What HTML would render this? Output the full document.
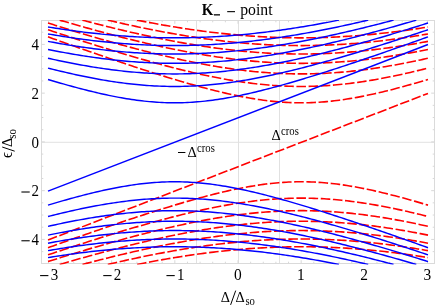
<!DOCTYPE html>
<html><head><meta charset="utf-8"><title>K- point</title>
<style>html,body{margin:0;padding:0;background:#fff}body{width:436px;height:305px;position:relative;overflow:hidden;font-family:"Liberation Serif",serif}</style></head>
<body>
<svg width="436" height="305" viewBox="0 0 436 305" style="position:absolute;left:0;top:0">
<defs><clipPath id="cp"><rect x="41.5" y="20.11" width="393.0" height="244.36"/></clipPath></defs>
<g stroke="#e1e1e1" stroke-width="1" fill="none">
<line x1="196.50" y1="20.5" x2="196.50" y2="263.5"/>
<line x1="238.50" y1="20.5" x2="238.50" y2="263.5"/>
<line x1="279.50" y1="20.5" x2="279.50" y2="263.5"/>
<line x1="41.5" y1="142.29" x2="434.5" y2="142.29"/>
</g>
<rect x="41.5" y="20.5" width="393.0" height="243.0" fill="none" stroke="#dadada" stroke-width="1"/>
<g stroke="#d8d8d8" stroke-width="1">
<line x1="48.49" y1="263.5" x2="48.49" y2="260.2"/>
<line x1="48.49" y1="20.5" x2="48.49" y2="23.8"/>
<line x1="61.12" y1="263.5" x2="61.12" y2="261.7"/>
<line x1="61.12" y1="20.5" x2="61.12" y2="22.3"/>
<line x1="73.76" y1="263.5" x2="73.76" y2="261.7"/>
<line x1="73.76" y1="20.5" x2="73.76" y2="22.3"/>
<line x1="86.39" y1="263.5" x2="86.39" y2="261.7"/>
<line x1="86.39" y1="20.5" x2="86.39" y2="22.3"/>
<line x1="99.03" y1="263.5" x2="99.03" y2="261.7"/>
<line x1="99.03" y1="20.5" x2="99.03" y2="22.3"/>
<line x1="111.66" y1="263.5" x2="111.66" y2="260.2"/>
<line x1="111.66" y1="20.5" x2="111.66" y2="23.8"/>
<line x1="124.29" y1="263.5" x2="124.29" y2="261.7"/>
<line x1="124.29" y1="20.5" x2="124.29" y2="22.3"/>
<line x1="136.93" y1="263.5" x2="136.93" y2="261.7"/>
<line x1="136.93" y1="20.5" x2="136.93" y2="22.3"/>
<line x1="149.56" y1="263.5" x2="149.56" y2="261.7"/>
<line x1="149.56" y1="20.5" x2="149.56" y2="22.3"/>
<line x1="162.2" y1="263.5" x2="162.2" y2="261.7"/>
<line x1="162.2" y1="20.5" x2="162.2" y2="22.3"/>
<line x1="174.83" y1="263.5" x2="174.83" y2="260.2"/>
<line x1="174.83" y1="20.5" x2="174.83" y2="23.8"/>
<line x1="187.46" y1="263.5" x2="187.46" y2="261.7"/>
<line x1="187.46" y1="20.5" x2="187.46" y2="22.3"/>
<line x1="200.1" y1="263.5" x2="200.1" y2="261.7"/>
<line x1="200.1" y1="20.5" x2="200.1" y2="22.3"/>
<line x1="212.73" y1="263.5" x2="212.73" y2="261.7"/>
<line x1="212.73" y1="20.5" x2="212.73" y2="22.3"/>
<line x1="225.37" y1="263.5" x2="225.37" y2="261.7"/>
<line x1="225.37" y1="20.5" x2="225.37" y2="22.3"/>
<line x1="238.0" y1="263.5" x2="238.0" y2="260.2"/>
<line x1="238.0" y1="20.5" x2="238.0" y2="23.8"/>
<line x1="250.63" y1="263.5" x2="250.63" y2="261.7"/>
<line x1="250.63" y1="20.5" x2="250.63" y2="22.3"/>
<line x1="263.27" y1="263.5" x2="263.27" y2="261.7"/>
<line x1="263.27" y1="20.5" x2="263.27" y2="22.3"/>
<line x1="275.9" y1="263.5" x2="275.9" y2="261.7"/>
<line x1="275.9" y1="20.5" x2="275.9" y2="22.3"/>
<line x1="288.54" y1="263.5" x2="288.54" y2="261.7"/>
<line x1="288.54" y1="20.5" x2="288.54" y2="22.3"/>
<line x1="301.17" y1="263.5" x2="301.17" y2="260.2"/>
<line x1="301.17" y1="20.5" x2="301.17" y2="23.8"/>
<line x1="313.8" y1="263.5" x2="313.8" y2="261.7"/>
<line x1="313.8" y1="20.5" x2="313.8" y2="22.3"/>
<line x1="326.44" y1="263.5" x2="326.44" y2="261.7"/>
<line x1="326.44" y1="20.5" x2="326.44" y2="22.3"/>
<line x1="339.07" y1="263.5" x2="339.07" y2="261.7"/>
<line x1="339.07" y1="20.5" x2="339.07" y2="22.3"/>
<line x1="351.71" y1="263.5" x2="351.71" y2="261.7"/>
<line x1="351.71" y1="20.5" x2="351.71" y2="22.3"/>
<line x1="364.34" y1="263.5" x2="364.34" y2="260.2"/>
<line x1="364.34" y1="20.5" x2="364.34" y2="23.8"/>
<line x1="376.97" y1="263.5" x2="376.97" y2="261.7"/>
<line x1="376.97" y1="20.5" x2="376.97" y2="22.3"/>
<line x1="389.61" y1="263.5" x2="389.61" y2="261.7"/>
<line x1="389.61" y1="20.5" x2="389.61" y2="22.3"/>
<line x1="402.24" y1="263.5" x2="402.24" y2="261.7"/>
<line x1="402.24" y1="20.5" x2="402.24" y2="22.3"/>
<line x1="414.88" y1="263.5" x2="414.88" y2="261.7"/>
<line x1="414.88" y1="20.5" x2="414.88" y2="22.3"/>
<line x1="427.51" y1="263.5" x2="427.51" y2="260.2"/>
<line x1="427.51" y1="20.5" x2="427.51" y2="23.8"/>
<line x1="41.5" y1="251.61" x2="43.3" y2="251.61"/>
<line x1="434.5" y1="251.61" x2="432.7" y2="251.61"/>
<line x1="41.5" y1="239.42" x2="44.8" y2="239.42"/>
<line x1="434.5" y1="239.42" x2="431.2" y2="239.42"/>
<line x1="41.5" y1="227.23" x2="43.3" y2="227.23"/>
<line x1="434.5" y1="227.23" x2="432.7" y2="227.23"/>
<line x1="41.5" y1="215.04" x2="43.3" y2="215.04"/>
<line x1="434.5" y1="215.04" x2="432.7" y2="215.04"/>
<line x1="41.5" y1="202.85" x2="43.3" y2="202.85"/>
<line x1="434.5" y1="202.85" x2="432.7" y2="202.85"/>
<line x1="41.5" y1="190.66" x2="44.8" y2="190.66"/>
<line x1="434.5" y1="190.66" x2="431.2" y2="190.66"/>
<line x1="41.5" y1="178.47" x2="43.3" y2="178.47"/>
<line x1="434.5" y1="178.47" x2="432.7" y2="178.47"/>
<line x1="41.5" y1="166.28" x2="43.3" y2="166.28"/>
<line x1="434.5" y1="166.28" x2="432.7" y2="166.28"/>
<line x1="41.5" y1="154.09" x2="43.3" y2="154.09"/>
<line x1="434.5" y1="154.09" x2="432.7" y2="154.09"/>
<line x1="41.5" y1="141.90" x2="44.8" y2="141.90"/>
<line x1="434.5" y1="141.90" x2="431.2" y2="141.90"/>
<line x1="41.5" y1="129.71" x2="43.3" y2="129.71"/>
<line x1="434.5" y1="129.71" x2="432.7" y2="129.71"/>
<line x1="41.5" y1="117.52" x2="43.3" y2="117.52"/>
<line x1="434.5" y1="117.52" x2="432.7" y2="117.52"/>
<line x1="41.5" y1="105.33" x2="43.3" y2="105.33"/>
<line x1="434.5" y1="105.33" x2="432.7" y2="105.33"/>
<line x1="41.5" y1="93.14" x2="44.8" y2="93.14"/>
<line x1="434.5" y1="93.14" x2="431.2" y2="93.14"/>
<line x1="41.5" y1="80.95" x2="43.3" y2="80.95"/>
<line x1="434.5" y1="80.95" x2="432.7" y2="80.95"/>
<line x1="41.5" y1="68.76" x2="43.3" y2="68.76"/>
<line x1="434.5" y1="68.76" x2="432.7" y2="68.76"/>
<line x1="41.5" y1="56.57" x2="43.3" y2="56.57"/>
<line x1="434.5" y1="56.57" x2="432.7" y2="56.57"/>
<line x1="41.5" y1="44.38" x2="44.8" y2="44.38"/>
<line x1="434.5" y1="44.38" x2="431.2" y2="44.38"/>
<line x1="41.5" y1="32.19" x2="43.3" y2="32.19"/>
<line x1="434.5" y1="32.19" x2="432.7" y2="32.19"/>
</g>
<g clip-path="url(#cp)" fill="none">
<g stroke="#ff0000" stroke-width="1.6" stroke-dasharray="9.55 2.63">
<path d="M48.01,240.03 L427.99,93.42"/>
<path d="M48.01,36.87 L50.54,37.78 L53.08,38.68 L55.61,39.59 L58.14,40.49 L60.68,41.39 L63.21,42.29 L65.74,43.19 L68.28,44.08 L70.81,44.98 L73.34,45.87 L75.88,46.76 L78.41,47.65 L80.94,48.54 L83.47,49.42 L86.01,50.31 L88.54,51.19 L91.07,52.07 L93.61,52.95 L96.14,53.82 L98.67,54.69 L101.21,55.57 L103.74,56.44 L106.27,57.30 L108.81,58.17 L111.34,59.03 L113.87,59.89 L116.41,60.74 L118.94,61.60 L121.47,62.45 L124.01,63.30 L126.54,64.14 L129.07,64.98 L131.61,65.82 L134.14,66.66 L136.67,67.49 L139.21,68.32 L141.74,69.14 L144.27,69.96 L146.80,70.78 L149.34,71.59 L151.87,72.40 L154.40,73.21 L156.94,74.01 L159.47,74.80 L162.00,75.59 L164.54,76.38 L167.07,77.16 L169.60,77.93 L172.14,78.70 L174.67,79.47 L177.20,80.22 L179.74,80.97 L182.27,81.72 L184.80,82.46 L187.34,83.19 L189.87,83.91 L192.40,84.63 L194.94,85.34 L197.47,86.04 L200.00,86.73 L202.54,87.41 L205.07,88.09 L207.60,88.75 L210.13,89.41 L212.67,90.05 L215.20,90.69 L217.73,91.31 L220.27,91.92 L222.80,92.52 L225.33,93.11 L227.87,93.69 L230.40,94.25 L232.93,94.80 L235.47,95.34 L238.00,95.86 L240.53,96.37 L243.07,96.86 L245.60,97.34 L248.13,97.80 L250.67,98.24 L253.20,98.66 L255.73,99.07 L258.27,99.46 L260.80,99.83 L263.33,100.18 L265.87,100.51 L268.40,100.82 L270.93,101.11 L273.46,101.37 L276.00,101.62 L278.53,101.84 L281.06,102.05 L283.60,102.22 L286.13,102.38 L288.66,102.51 L291.20,102.62 L293.73,102.70 L296.26,102.76 L298.80,102.80 L301.33,102.81 L303.86,102.80 L306.40,102.76 L308.93,102.70 L311.46,102.62 L314.00,102.51 L316.53,102.38 L319.06,102.22 L321.60,102.05 L324.13,101.84 L326.66,101.62 L329.20,101.37 L331.73,101.11 L334.26,100.82 L336.79,100.51 L339.33,100.18 L341.86,99.83 L344.39,99.46 L346.93,99.07 L349.46,98.66 L351.99,98.24 L354.53,97.80 L357.06,97.34 L359.59,96.86 L362.13,96.37 L364.66,95.86 L367.19,95.34 L369.73,94.80 L372.26,94.25 L374.79,93.69 L377.33,93.11 L379.86,92.52 L382.39,91.92 L384.93,91.31 L387.46,90.69 L389.99,90.05 L392.53,89.41 L395.06,88.75 L397.59,88.09 L400.12,87.41 L402.66,86.73 L405.19,86.04 L407.72,85.34 L410.26,84.63 L412.79,83.91 L415.32,83.19 L417.86,82.46 L420.39,81.72 L422.92,80.97 L425.46,80.22 L427.99,79.47"/>
<path d="M48.01,247.71 L50.54,246.80 L53.08,245.90 L55.61,244.99 L58.14,244.09 L60.68,243.19 L63.21,242.29 L65.74,241.39 L68.28,240.50 L70.81,239.60 L73.34,238.71 L75.88,237.82 L78.41,236.93 L80.94,236.04 L83.47,235.16 L86.01,234.27 L88.54,233.39 L91.07,232.51 L93.61,231.63 L96.14,230.76 L98.67,229.89 L101.21,229.01 L103.74,228.14 L106.27,227.28 L108.81,226.41 L111.34,225.55 L113.87,224.69 L116.41,223.84 L118.94,222.98 L121.47,222.13 L124.01,221.28 L126.54,220.44 L129.07,219.60 L131.61,218.76 L134.14,217.92 L136.67,217.09 L139.21,216.26 L141.74,215.44 L144.27,214.62 L146.80,213.80 L149.34,212.99 L151.87,212.18 L154.40,211.37 L156.94,210.57 L159.47,209.78 L162.00,208.99 L164.54,208.20 L167.07,207.42 L169.60,206.65 L172.14,205.88 L174.67,205.11 L177.20,204.36 L179.74,203.61 L182.27,202.86 L184.80,202.12 L187.34,201.39 L189.87,200.67 L192.40,199.95 L194.94,199.24 L197.47,198.54 L200.00,197.85 L202.54,197.17 L205.07,196.49 L207.60,195.83 L210.13,195.17 L212.67,194.53 L215.20,193.89 L217.73,193.27 L220.27,192.66 L222.80,192.06 L225.33,191.47 L227.87,190.89 L230.40,190.33 L232.93,189.78 L235.47,189.24 L238.00,188.72 L240.53,188.21 L243.07,187.72 L245.60,187.24 L248.13,186.78 L250.67,186.34 L253.20,185.92 L255.73,185.51 L258.27,185.12 L260.80,184.75 L263.33,184.40 L265.87,184.07 L268.40,183.76 L270.93,183.47 L273.46,183.21 L276.00,182.96 L278.53,182.74 L281.06,182.53 L283.60,182.36 L286.13,182.20 L288.66,182.07 L291.20,181.96 L293.73,181.88 L296.26,181.82 L298.80,181.78 L301.33,181.77 L303.86,181.78 L306.40,181.82 L308.93,181.88 L311.46,181.96 L314.00,182.07 L316.53,182.20 L319.06,182.36 L321.60,182.53 L324.13,182.74 L326.66,182.96 L329.20,183.21 L331.73,183.47 L334.26,183.76 L336.79,184.07 L339.33,184.40 L341.86,184.75 L344.39,185.12 L346.93,185.51 L349.46,185.92 L351.99,186.34 L354.53,186.78 L357.06,187.24 L359.59,187.72 L362.13,188.21 L364.66,188.72 L367.19,189.24 L369.73,189.78 L372.26,190.33 L374.79,190.89 L377.33,191.47 L379.86,192.06 L382.39,192.66 L384.93,193.27 L387.46,193.89 L389.99,194.53 L392.53,195.17 L395.06,195.83 L397.59,196.49 L400.12,197.17 L402.66,197.85 L405.19,198.54 L407.72,199.24 L410.26,199.95 L412.79,200.67 L415.32,201.39 L417.86,202.12 L420.39,202.86 L422.92,203.61 L425.46,204.36 L427.99,205.11"/>
<path d="M48.01,29.73 L50.54,30.57 L53.08,31.42 L55.61,32.26 L58.14,33.10 L60.68,33.94 L63.21,34.78 L65.74,35.61 L68.28,36.44 L70.81,37.27 L73.34,38.10 L75.88,38.92 L78.41,39.74 L80.94,40.56 L83.47,41.38 L86.01,42.19 L88.54,43.00 L91.07,43.81 L93.61,44.61 L96.14,45.41 L98.67,46.21 L101.21,47.00 L103.74,47.79 L106.27,48.58 L108.81,49.36 L111.34,50.14 L113.87,50.92 L116.41,51.69 L118.94,52.46 L121.47,53.22 L124.01,53.98 L126.54,54.74 L129.07,55.49 L131.61,56.23 L134.14,56.98 L136.67,57.71 L139.21,58.44 L141.74,59.17 L144.27,59.89 L146.80,60.61 L149.34,61.32 L151.87,62.02 L154.40,62.72 L156.94,63.42 L159.47,64.10 L162.00,64.79 L164.54,65.46 L167.07,66.13 L169.60,66.79 L172.14,67.44 L174.67,68.09 L177.20,68.73 L179.74,69.36 L182.27,69.99 L184.80,70.61 L187.34,71.22 L189.87,71.82 L192.40,72.41 L194.94,72.99 L197.47,73.57 L200.00,74.13 L202.54,74.69 L205.07,75.23 L207.60,75.77 L210.13,76.30 L212.67,76.81 L215.20,77.32 L217.73,77.81 L220.27,78.30 L222.80,78.77 L225.33,79.23 L227.87,79.68 L230.40,80.11 L232.93,80.54 L235.47,80.95 L238.00,81.35 L240.53,81.73 L243.07,82.10 L245.60,82.46 L248.13,82.81 L250.67,83.14 L253.20,83.45 L255.73,83.75 L258.27,84.04 L260.80,84.31 L263.33,84.57 L265.87,84.81 L268.40,85.03 L270.93,85.24 L273.46,85.43 L276.00,85.61 L278.53,85.77 L281.06,85.92 L283.60,86.04 L286.13,86.15 L288.66,86.25 L291.20,86.32 L293.73,86.38 L296.26,86.43 L298.80,86.45 L301.33,86.46 L303.86,86.45 L306.40,86.43 L308.93,86.38 L311.46,86.32 L314.00,86.25 L316.53,86.15 L319.06,86.04 L321.60,85.92 L324.13,85.77 L326.66,85.61 L329.20,85.43 L331.73,85.24 L334.26,85.03 L336.79,84.81 L339.33,84.57 L341.86,84.31 L344.39,84.04 L346.93,83.75 L349.46,83.45 L351.99,83.14 L354.53,82.81 L357.06,82.46 L359.59,82.10 L362.13,81.73 L364.66,81.35 L367.19,80.95 L369.73,80.54 L372.26,80.11 L374.79,79.68 L377.33,79.23 L379.86,78.77 L382.39,78.30 L384.93,77.81 L387.46,77.32 L389.99,76.81 L392.53,76.30 L395.06,75.77 L397.59,75.23 L400.12,74.69 L402.66,74.13 L405.19,73.57 L407.72,72.99 L410.26,72.41 L412.79,71.82 L415.32,71.22 L417.86,70.61 L420.39,69.99 L422.92,69.36 L425.46,68.73 L427.99,68.09"/>
<path d="M48.01,254.85 L50.54,254.01 L53.08,253.16 L55.61,252.32 L58.14,251.48 L60.68,250.64 L63.21,249.80 L65.74,248.97 L68.28,248.14 L70.81,247.31 L73.34,246.48 L75.88,245.66 L78.41,244.84 L80.94,244.02 L83.47,243.20 L86.01,242.39 L88.54,241.58 L91.07,240.77 L93.61,239.97 L96.14,239.17 L98.67,238.37 L101.21,237.58 L103.74,236.79 L106.27,236.00 L108.81,235.22 L111.34,234.44 L113.87,233.66 L116.41,232.89 L118.94,232.12 L121.47,231.36 L124.01,230.60 L126.54,229.84 L129.07,229.09 L131.61,228.35 L134.14,227.60 L136.67,226.87 L139.21,226.14 L141.74,225.41 L144.27,224.69 L146.80,223.97 L149.34,223.26 L151.87,222.56 L154.40,221.86 L156.94,221.16 L159.47,220.48 L162.00,219.79 L164.54,219.12 L167.07,218.45 L169.60,217.79 L172.14,217.14 L174.67,216.49 L177.20,215.85 L179.74,215.22 L182.27,214.59 L184.80,213.97 L187.34,213.36 L189.87,212.76 L192.40,212.17 L194.94,211.59 L197.47,211.01 L200.00,210.45 L202.54,209.89 L205.07,209.35 L207.60,208.81 L210.13,208.28 L212.67,207.77 L215.20,207.26 L217.73,206.77 L220.27,206.28 L222.80,205.81 L225.33,205.35 L227.87,204.90 L230.40,204.47 L232.93,204.04 L235.47,203.63 L238.00,203.23 L240.53,202.85 L243.07,202.48 L245.60,202.12 L248.13,201.77 L250.67,201.44 L253.20,201.13 L255.73,200.83 L258.27,200.54 L260.80,200.27 L263.33,200.01 L265.87,199.77 L268.40,199.55 L270.93,199.34 L273.46,199.15 L276.00,198.97 L278.53,198.81 L281.06,198.66 L283.60,198.54 L286.13,198.43 L288.66,198.33 L291.20,198.26 L293.73,198.20 L296.26,198.15 L298.80,198.13 L301.33,198.12 L303.86,198.13 L306.40,198.15 L308.93,198.20 L311.46,198.26 L314.00,198.33 L316.53,198.43 L319.06,198.54 L321.60,198.66 L324.13,198.81 L326.66,198.97 L329.20,199.15 L331.73,199.34 L334.26,199.55 L336.79,199.77 L339.33,200.01 L341.86,200.27 L344.39,200.54 L346.93,200.83 L349.46,201.13 L351.99,201.44 L354.53,201.77 L357.06,202.12 L359.59,202.48 L362.13,202.85 L364.66,203.23 L367.19,203.63 L369.73,204.04 L372.26,204.47 L374.79,204.90 L377.33,205.35 L379.86,205.81 L382.39,206.28 L384.93,206.77 L387.46,207.26 L389.99,207.77 L392.53,208.28 L395.06,208.81 L397.59,209.35 L400.12,209.89 L402.66,210.45 L405.19,211.01 L407.72,211.59 L410.26,212.17 L412.79,212.76 L415.32,213.36 L417.86,213.97 L420.39,214.59 L422.92,215.22 L425.46,215.85 L427.99,216.49"/>
<path d="M48.01,23.00 L50.54,23.80 L53.08,24.60 L55.61,25.39 L58.14,26.19 L60.68,26.97 L63.21,27.76 L65.74,28.54 L68.28,29.32 L70.81,30.10 L73.34,30.87 L75.88,31.64 L78.41,32.41 L80.94,33.17 L83.47,33.93 L86.01,34.69 L88.54,35.44 L91.07,36.19 L93.61,36.94 L96.14,37.68 L98.67,38.42 L101.21,39.15 L103.74,39.88 L106.27,40.60 L108.81,41.33 L111.34,42.04 L113.87,42.76 L116.41,43.46 L118.94,44.17 L121.47,44.87 L124.01,45.56 L126.54,46.25 L129.07,46.93 L131.61,47.61 L134.14,48.28 L136.67,48.95 L139.21,49.61 L141.74,50.27 L144.27,50.92 L146.80,51.57 L149.34,52.21 L151.87,52.84 L154.40,53.47 L156.94,54.09 L159.47,54.70 L162.00,55.31 L164.54,55.91 L167.07,56.50 L169.60,57.09 L172.14,57.67 L174.67,58.24 L177.20,58.81 L179.74,59.36 L182.27,59.91 L184.80,60.45 L187.34,60.99 L189.87,61.51 L192.40,62.03 L194.94,62.54 L197.47,63.03 L200.00,63.52 L202.54,64.00 L205.07,64.48 L207.60,64.94 L210.13,65.39 L212.67,65.83 L215.20,66.26 L217.73,66.69 L220.27,67.10 L222.80,67.50 L225.33,67.89 L227.87,68.27 L230.40,68.64 L232.93,69.00 L235.47,69.34 L238.00,69.68 L240.53,70.00 L243.07,70.31 L245.60,70.61 L248.13,70.90 L250.67,71.17 L253.20,71.44 L255.73,71.69 L258.27,71.92 L260.80,72.15 L263.33,72.36 L265.87,72.56 L268.40,72.74 L270.93,72.91 L273.46,73.07 L276.00,73.22 L278.53,73.35 L281.06,73.47 L283.60,73.57 L286.13,73.66 L288.66,73.74 L291.20,73.80 L293.73,73.85 L296.26,73.88 L298.80,73.91 L301.33,73.91 L303.86,73.91 L306.40,73.88 L308.93,73.85 L311.46,73.80 L314.00,73.74 L316.53,73.66 L319.06,73.57 L321.60,73.47 L324.13,73.35 L326.66,73.22 L329.20,73.07 L331.73,72.91 L334.26,72.74 L336.79,72.56 L339.33,72.36 L341.86,72.15 L344.39,71.92 L346.93,71.69 L349.46,71.44 L351.99,71.17 L354.53,70.90 L357.06,70.61 L359.59,70.31 L362.13,70.00 L364.66,69.68 L367.19,69.34 L369.73,69.00 L372.26,68.64 L374.79,68.27 L377.33,67.89 L379.86,67.50 L382.39,67.10 L384.93,66.69 L387.46,66.26 L389.99,65.83 L392.53,65.39 L395.06,64.94 L397.59,64.48 L400.12,64.00 L402.66,63.52 L405.19,63.03 L407.72,62.54 L410.26,62.03 L412.79,61.51 L415.32,60.99 L417.86,60.45 L420.39,59.91 L422.92,59.36 L425.46,58.81 L427.99,58.24"/>
<path d="M48.01,261.58 L50.54,260.78 L53.08,259.98 L55.61,259.19 L58.14,258.39 L60.68,257.61 L63.21,256.82 L65.74,256.04 L68.28,255.26 L70.81,254.48 L73.34,253.71 L75.88,252.94 L78.41,252.17 L80.94,251.41 L83.47,250.65 L86.01,249.89 L88.54,249.14 L91.07,248.39 L93.61,247.64 L96.14,246.90 L98.67,246.16 L101.21,245.43 L103.74,244.70 L106.27,243.98 L108.81,243.25 L111.34,242.54 L113.87,241.82 L116.41,241.12 L118.94,240.41 L121.47,239.71 L124.01,239.02 L126.54,238.33 L129.07,237.65 L131.61,236.97 L134.14,236.30 L136.67,235.63 L139.21,234.97 L141.74,234.31 L144.27,233.66 L146.80,233.01 L149.34,232.37 L151.87,231.74 L154.40,231.11 L156.94,230.49 L159.47,229.88 L162.00,229.27 L164.54,228.67 L167.07,228.08 L169.60,227.49 L172.14,226.91 L174.67,226.34 L177.20,225.77 L179.74,225.22 L182.27,224.67 L184.80,224.13 L187.34,223.59 L189.87,223.07 L192.40,222.55 L194.94,222.04 L197.47,221.55 L200.00,221.06 L202.54,220.58 L205.07,220.10 L207.60,219.64 L210.13,219.19 L212.67,218.75 L215.20,218.32 L217.73,217.89 L220.27,217.48 L222.80,217.08 L225.33,216.69 L227.87,216.31 L230.40,215.94 L232.93,215.58 L235.47,215.24 L238.00,214.90 L240.53,214.58 L243.07,214.27 L245.60,213.97 L248.13,213.68 L250.67,213.41 L253.20,213.14 L255.73,212.89 L258.27,212.66 L260.80,212.43 L263.33,212.22 L265.87,212.02 L268.40,211.84 L270.93,211.67 L273.46,211.51 L276.00,211.36 L278.53,211.23 L281.06,211.11 L283.60,211.01 L286.13,210.92 L288.66,210.84 L291.20,210.78 L293.73,210.73 L296.26,210.70 L298.80,210.67 L301.33,210.67 L303.86,210.67 L306.40,210.70 L308.93,210.73 L311.46,210.78 L314.00,210.84 L316.53,210.92 L319.06,211.01 L321.60,211.11 L324.13,211.23 L326.66,211.36 L329.20,211.51 L331.73,211.67 L334.26,211.84 L336.79,212.02 L339.33,212.22 L341.86,212.43 L344.39,212.66 L346.93,212.89 L349.46,213.14 L351.99,213.41 L354.53,213.68 L357.06,213.97 L359.59,214.27 L362.13,214.58 L364.66,214.90 L367.19,215.24 L369.73,215.58 L372.26,215.94 L374.79,216.31 L377.33,216.69 L379.86,217.08 L382.39,217.48 L384.93,217.89 L387.46,218.32 L389.99,218.75 L392.53,219.19 L395.06,219.64 L397.59,220.10 L400.12,220.58 L402.66,221.06 L405.19,221.55 L407.72,222.04 L410.26,222.55 L412.79,223.07 L415.32,223.59 L417.86,224.13 L420.39,224.67 L422.92,225.22 L425.46,225.77 L427.99,226.34"/>
<path d="M59.68,20.11 L62.22,20.86 L64.76,21.60 L67.30,22.34 L69.84,23.07 L72.38,23.81 L74.92,24.54 L77.46,25.26 L80.00,25.98 L82.54,26.70 L85.08,27.41 L87.62,28.12 L90.16,28.83 L92.70,29.53 L95.24,30.23 L97.78,30.92 L100.32,31.61 L102.86,32.30 L105.40,32.98 L107.94,33.65 L110.48,34.32 L113.02,34.99 L115.56,35.65 L118.10,36.31 L120.64,36.96 L123.18,37.60 L125.72,38.25 L128.26,38.88 L130.80,39.51 L133.34,40.14 L135.88,40.76 L138.42,41.37 L140.96,41.98 L143.50,42.58 L146.04,43.17 L148.58,43.76 L151.12,44.35 L153.66,44.92 L156.20,45.49 L158.74,46.06 L161.28,46.61 L163.82,47.16 L166.36,47.71 L168.90,48.24 L171.44,48.77 L173.98,49.29 L176.52,49.81 L179.06,50.31 L181.60,50.81 L184.14,51.30 L186.68,51.79 L189.22,52.26 L191.76,52.73 L194.30,53.19 L196.84,53.64 L199.38,54.08 L201.92,54.51 L204.46,54.93 L207.00,55.35 L209.54,55.76 L212.08,56.15 L214.62,56.54 L217.16,56.92 L219.70,57.28 L222.24,57.64 L224.78,57.99 L227.32,58.33 L229.86,58.66 L232.40,58.98 L234.94,59.28 L237.48,59.58 L240.02,59.87 L242.56,60.14 L245.10,60.41 L247.64,60.66 L250.18,60.91 L252.72,61.14 L255.26,61.36 L257.80,61.57 L260.34,61.77 L262.88,61.95 L265.42,62.13 L267.96,62.29 L270.50,62.44 L273.05,62.58 L275.59,62.71 L278.13,62.83 L280.67,62.93 L283.21,63.03 L285.75,63.11 L288.29,63.17 L290.83,63.23 L293.37,63.28 L295.91,63.31 L298.45,63.33 L300.99,63.33 L303.53,63.33 L306.07,63.31 L308.61,63.28 L311.15,63.24 L313.69,63.19 L316.23,63.13 L318.77,63.05 L321.31,62.96 L323.85,62.86 L326.39,62.75 L328.93,62.62 L331.47,62.48 L334.01,62.33 L336.55,62.17 L339.09,62.00 L341.63,61.82 L344.17,61.62 L346.71,61.42 L349.25,61.20 L351.79,60.97 L354.33,60.73 L356.87,60.48 L359.41,60.22 L361.95,59.94 L364.49,59.66 L367.03,59.37 L369.57,59.06 L372.11,58.75 L374.65,58.42 L377.19,58.08 L379.73,57.74 L382.27,57.38 L384.81,57.02 L387.35,56.64 L389.89,56.26 L392.43,55.86 L394.97,55.46 L397.51,55.05 L400.05,54.63 L402.59,54.20 L405.13,53.76 L407.67,53.31 L410.21,52.85 L412.75,52.39 L415.29,51.92 L417.83,51.44 L420.37,50.95 L422.91,50.45 L425.45,49.95 L427.99,49.43"/>
<path d="M59.68,264.47 L62.22,263.72 L64.76,262.98 L67.30,262.24 L69.84,261.51 L72.38,260.77 L74.92,260.04 L77.46,259.32 L80.00,258.60 L82.54,257.88 L85.08,257.17 L87.62,256.46 L90.16,255.75 L92.70,255.05 L95.24,254.35 L97.78,253.66 L100.32,252.97 L102.86,252.28 L105.40,251.60 L107.94,250.93 L110.48,250.26 L113.02,249.59 L115.56,248.93 L118.10,248.27 L120.64,247.62 L123.18,246.98 L125.72,246.33 L128.26,245.70 L130.80,245.07 L133.34,244.44 L135.88,243.82 L138.42,243.21 L140.96,242.60 L143.50,242.00 L146.04,241.41 L148.58,240.82 L151.12,240.23 L153.66,239.66 L156.20,239.09 L158.74,238.52 L161.28,237.97 L163.82,237.42 L166.36,236.87 L168.90,236.34 L171.44,235.81 L173.98,235.29 L176.52,234.77 L179.06,234.27 L181.60,233.77 L184.14,233.28 L186.68,232.79 L189.22,232.32 L191.76,231.85 L194.30,231.39 L196.84,230.94 L199.38,230.50 L201.92,230.07 L204.46,229.65 L207.00,229.23 L209.54,228.82 L212.08,228.43 L214.62,228.04 L217.16,227.66 L219.70,227.30 L222.24,226.94 L224.78,226.59 L227.32,226.25 L229.86,225.92 L232.40,225.60 L234.94,225.30 L237.48,225.00 L240.02,224.71 L242.56,224.44 L245.10,224.17 L247.64,223.92 L250.18,223.67 L252.72,223.44 L255.26,223.22 L257.80,223.01 L260.34,222.81 L262.88,222.63 L265.42,222.45 L267.96,222.29 L270.50,222.14 L273.05,222.00 L275.59,221.87 L278.13,221.75 L280.67,221.65 L283.21,221.55 L285.75,221.47 L288.29,221.41 L290.83,221.35 L293.37,221.30 L295.91,221.27 L298.45,221.25 L300.99,221.25 L303.53,221.25 L306.07,221.27 L308.61,221.30 L311.15,221.34 L313.69,221.39 L316.23,221.45 L318.77,221.53 L321.31,221.62 L323.85,221.72 L326.39,221.83 L328.93,221.96 L331.47,222.10 L334.01,222.25 L336.55,222.41 L339.09,222.58 L341.63,222.76 L344.17,222.96 L346.71,223.16 L349.25,223.38 L351.79,223.61 L354.33,223.85 L356.87,224.10 L359.41,224.36 L361.95,224.64 L364.49,224.92 L367.03,225.21 L369.57,225.52 L372.11,225.83 L374.65,226.16 L377.19,226.50 L379.73,226.84 L382.27,227.20 L384.81,227.56 L387.35,227.94 L389.89,228.32 L392.43,228.72 L394.97,229.12 L397.51,229.53 L400.05,229.95 L402.59,230.38 L405.13,230.82 L407.67,231.27 L410.21,231.73 L412.75,232.19 L415.29,232.66 L417.83,233.14 L420.37,233.63 L422.91,234.13 L425.45,234.63 L427.99,235.15"/>
<path d="M82.41,20.11 L84.95,20.79 L87.49,21.46 L90.03,22.12 L92.57,22.79 L95.11,23.45 L97.65,24.10 L100.19,24.75 L102.73,25.40 L105.28,26.04 L107.82,26.67 L110.36,27.30 L112.90,27.93 L115.44,28.55 L117.98,29.16 L120.52,29.78 L123.06,30.38 L125.60,30.98 L128.15,31.58 L130.69,32.16 L133.23,32.75 L135.77,33.33 L138.31,33.90 L140.85,34.46 L143.39,35.02 L145.93,35.58 L148.47,36.12 L151.01,36.67 L153.56,37.20 L156.10,37.73 L158.64,38.25 L161.18,38.77 L163.72,39.28 L166.26,39.78 L168.80,40.27 L171.34,40.76 L173.88,41.24 L176.43,41.72 L178.97,42.18 L181.51,42.64 L184.05,43.09 L186.59,43.54 L189.13,43.97 L191.67,44.40 L194.21,44.82 L196.75,45.23 L199.29,45.63 L201.84,46.03 L204.38,46.42 L206.92,46.79 L209.46,47.16 L212.00,47.52 L214.54,47.88 L217.08,48.22 L219.62,48.55 L222.16,48.88 L224.71,49.20 L227.25,49.50 L229.79,49.80 L232.33,50.09 L234.87,50.37 L237.41,50.63 L239.95,50.89 L242.49,51.14 L245.03,51.38 L247.57,51.61 L250.12,51.83 L252.66,52.04 L255.20,52.24 L257.74,52.43 L260.28,52.61 L262.82,52.77 L265.36,52.93 L267.90,53.08 L270.44,53.21 L272.99,53.34 L275.53,53.46 L278.07,53.56 L280.61,53.65 L283.15,53.74 L285.69,53.81 L288.23,53.87 L290.77,53.92 L293.31,53.96 L295.85,53.99 L298.40,54.01 L300.94,54.02 L303.48,54.01 L306.02,54.00 L308.56,53.97 L311.10,53.93 L313.64,53.89 L316.18,53.83 L318.72,53.76 L321.27,53.68 L323.81,53.59 L326.35,53.49 L328.89,53.38 L331.43,53.25 L333.97,53.12 L336.51,52.98 L339.05,52.82 L341.59,52.66 L344.14,52.48 L346.68,52.30 L349.22,52.10 L351.76,51.90 L354.30,51.68 L356.84,51.45 L359.38,51.22 L361.92,50.97 L364.46,50.72 L367.00,50.45 L369.55,50.17 L372.09,49.89 L374.63,49.60 L377.17,49.29 L379.71,48.98 L382.25,48.66 L384.79,48.32 L387.33,47.98 L389.87,47.63 L392.42,47.28 L394.96,46.91 L397.50,46.53 L400.04,46.15 L402.58,45.76 L405.12,45.36 L407.66,44.95 L410.20,44.53 L412.74,44.10 L415.28,43.67 L417.83,43.23 L420.37,42.78 L422.91,42.32 L425.45,41.86 L427.99,41.39"/>
<path d="M82.41,264.47 L84.95,263.79 L87.49,263.12 L90.03,262.46 L92.57,261.79 L95.11,261.13 L97.65,260.48 L100.19,259.83 L102.73,259.18 L105.28,258.54 L107.82,257.91 L110.36,257.28 L112.90,256.65 L115.44,256.03 L117.98,255.42 L120.52,254.80 L123.06,254.20 L125.60,253.60 L128.15,253.00 L130.69,252.42 L133.23,251.83 L135.77,251.25 L138.31,250.68 L140.85,250.12 L143.39,249.56 L145.93,249.00 L148.47,248.46 L151.01,247.91 L153.56,247.38 L156.10,246.85 L158.64,246.33 L161.18,245.81 L163.72,245.30 L166.26,244.80 L168.80,244.31 L171.34,243.82 L173.88,243.34 L176.43,242.86 L178.97,242.40 L181.51,241.94 L184.05,241.49 L186.59,241.04 L189.13,240.61 L191.67,240.18 L194.21,239.76 L196.75,239.35 L199.29,238.95 L201.84,238.55 L204.38,238.16 L206.92,237.79 L209.46,237.42 L212.00,237.06 L214.54,236.70 L217.08,236.36 L219.62,236.03 L222.16,235.70 L224.71,235.38 L227.25,235.08 L229.79,234.78 L232.33,234.49 L234.87,234.21 L237.41,233.95 L239.95,233.69 L242.49,233.44 L245.03,233.20 L247.57,232.97 L250.12,232.75 L252.66,232.54 L255.20,232.34 L257.74,232.15 L260.28,231.97 L262.82,231.81 L265.36,231.65 L267.90,231.50 L270.44,231.37 L272.99,231.24 L275.53,231.12 L278.07,231.02 L280.61,230.93 L283.15,230.84 L285.69,230.77 L288.23,230.71 L290.77,230.66 L293.31,230.62 L295.85,230.59 L298.40,230.57 L300.94,230.56 L303.48,230.57 L306.02,230.58 L308.56,230.61 L311.10,230.65 L313.64,230.69 L316.18,230.75 L318.72,230.82 L321.27,230.90 L323.81,230.99 L326.35,231.09 L328.89,231.20 L331.43,231.33 L333.97,231.46 L336.51,231.60 L339.05,231.76 L341.59,231.92 L344.14,232.10 L346.68,232.28 L349.22,232.48 L351.76,232.68 L354.30,232.90 L356.84,233.13 L359.38,233.36 L361.92,233.61 L364.46,233.86 L367.00,234.13 L369.55,234.41 L372.09,234.69 L374.63,234.98 L377.17,235.29 L379.71,235.60 L382.25,235.92 L384.79,236.26 L387.33,236.60 L389.87,236.95 L392.42,237.30 L394.96,237.67 L397.50,238.05 L400.04,238.43 L402.58,238.82 L405.12,239.22 L407.66,239.63 L410.20,240.05 L412.74,240.48 L415.28,240.91 L417.83,241.35 L420.37,241.80 L422.91,242.26 L425.45,242.72 L427.99,243.19"/>
<path d="M107.78,20.11 L110.33,20.71 L112.87,21.30 L115.41,21.89 L117.95,22.47 L120.49,23.04 L123.03,23.61 L125.57,24.18 L128.12,24.74 L130.66,25.30 L133.20,25.84 L135.74,26.39 L138.28,26.93 L140.82,27.46 L143.36,27.98 L145.90,28.50 L148.45,29.02 L150.99,29.52 L153.53,30.03 L156.07,30.52 L158.61,31.01 L161.15,31.49 L163.69,31.97 L166.23,32.44 L168.78,32.90 L171.32,33.35 L173.86,33.80 L176.40,34.24 L178.94,34.68 L181.48,35.10 L184.02,35.52 L186.57,35.93 L189.11,36.34 L191.65,36.73 L194.19,37.12 L196.73,37.51 L199.27,37.88 L201.81,38.25 L204.35,38.60 L206.90,38.95 L209.44,39.29 L211.98,39.63 L214.52,39.95 L217.06,40.27 L219.60,40.58 L222.14,40.88 L224.68,41.17 L227.23,41.45 L229.77,41.73 L232.31,41.99 L234.85,42.25 L237.39,42.49 L239.93,42.73 L242.47,42.96 L245.02,43.18 L247.56,43.39 L250.10,43.59 L252.64,43.78 L255.18,43.96 L257.72,44.14 L260.26,44.30 L262.80,44.45 L265.35,44.60 L267.89,44.73 L270.43,44.86 L272.97,44.97 L275.51,45.08 L278.05,45.17 L280.59,45.26 L283.14,45.34 L285.68,45.40 L288.22,45.46 L290.76,45.50 L293.30,45.54 L295.84,45.57 L298.38,45.58 L300.92,45.59 L303.47,45.59 L306.01,45.57 L308.55,45.55 L311.09,45.52 L313.63,45.47 L316.17,45.42 L318.71,45.36 L321.25,45.28 L323.80,45.20 L326.34,45.11 L328.88,45.01 L331.42,44.90 L333.96,44.77 L336.50,44.64 L339.04,44.50 L341.59,44.35 L344.13,44.19 L346.67,44.02 L349.21,43.84 L351.75,43.65 L354.29,43.45 L356.83,43.25 L359.37,43.03 L361.92,42.80 L364.46,42.57 L367.00,42.33 L369.54,42.07 L372.08,41.81 L374.62,41.54 L377.16,41.26 L379.71,40.97 L382.25,40.67 L384.79,40.37 L387.33,40.06 L389.87,39.73 L392.41,39.40 L394.95,39.06 L397.49,38.72 L400.04,38.36 L402.58,38.00 L405.12,37.63 L407.66,37.25 L410.20,36.86 L412.74,36.47 L415.28,36.06 L417.82,35.65 L420.37,35.24 L422.91,34.81 L425.45,34.38 L427.99,33.94"/>
<path d="M107.78,264.47 L110.33,263.87 L112.87,263.28 L115.41,262.69 L117.95,262.11 L120.49,261.54 L123.03,260.97 L125.57,260.40 L128.12,259.84 L130.66,259.28 L133.20,258.74 L135.74,258.19 L138.28,257.65 L140.82,257.12 L143.36,256.60 L145.90,256.08 L148.45,255.56 L150.99,255.06 L153.53,254.55 L156.07,254.06 L158.61,253.57 L161.15,253.09 L163.69,252.61 L166.23,252.14 L168.78,251.68 L171.32,251.23 L173.86,250.78 L176.40,250.34 L178.94,249.90 L181.48,249.48 L184.02,249.06 L186.57,248.65 L189.11,248.24 L191.65,247.85 L194.19,247.46 L196.73,247.07 L199.27,246.70 L201.81,246.33 L204.35,245.98 L206.90,245.63 L209.44,245.29 L211.98,244.95 L214.52,244.63 L217.06,244.31 L219.60,244.00 L222.14,243.70 L224.68,243.41 L227.23,243.13 L229.77,242.85 L232.31,242.59 L234.85,242.33 L237.39,242.09 L239.93,241.85 L242.47,241.62 L245.02,241.40 L247.56,241.19 L250.10,240.99 L252.64,240.80 L255.18,240.62 L257.72,240.44 L260.26,240.28 L262.80,240.13 L265.35,239.98 L267.89,239.85 L270.43,239.72 L272.97,239.61 L275.51,239.50 L278.05,239.41 L280.59,239.32 L283.14,239.24 L285.68,239.18 L288.22,239.12 L290.76,239.08 L293.30,239.04 L295.84,239.01 L298.38,239.00 L300.92,238.99 L303.47,238.99 L306.01,239.01 L308.55,239.03 L311.09,239.06 L313.63,239.11 L316.17,239.16 L318.71,239.22 L321.25,239.30 L323.80,239.38 L326.34,239.47 L328.88,239.57 L331.42,239.68 L333.96,239.81 L336.50,239.94 L339.04,240.08 L341.59,240.23 L344.13,240.39 L346.67,240.56 L349.21,240.74 L351.75,240.93 L354.29,241.13 L356.83,241.33 L359.37,241.55 L361.92,241.78 L364.46,242.01 L367.00,242.25 L369.54,242.51 L372.08,242.77 L374.62,243.04 L377.16,243.32 L379.71,243.61 L382.25,243.91 L384.79,244.21 L387.33,244.52 L389.87,244.85 L392.41,245.18 L394.95,245.52 L397.49,245.86 L400.04,246.22 L402.58,246.58 L405.12,246.95 L407.66,247.33 L410.20,247.72 L412.74,248.11 L415.28,248.52 L417.82,248.93 L420.37,249.34 L422.91,249.77 L425.45,250.20 L427.99,250.64"/>
<path d="M137.04,20.11 L139.59,20.62 L142.14,21.12 L144.69,21.62 L147.25,22.11 L149.80,22.59 L152.35,23.07 L154.90,23.54 L157.46,24.01 L160.01,24.46 L162.56,24.92 L165.11,25.36 L167.66,25.80 L170.22,26.24 L172.77,26.66 L175.32,27.08 L177.87,27.49 L180.43,27.90 L182.98,28.30 L185.53,28.69 L188.08,29.07 L190.63,29.45 L193.19,29.82 L195.74,30.18 L198.29,30.53 L200.84,30.88 L203.40,31.22 L205.95,31.55 L208.50,31.87 L211.05,32.19 L213.60,32.49 L216.16,32.79 L218.71,33.09 L221.26,33.37 L223.81,33.64 L226.37,33.91 L228.92,34.17 L231.47,34.42 L234.02,34.66 L236.57,34.90 L239.13,35.12 L241.68,35.34 L244.23,35.54 L246.78,35.74 L249.34,35.93 L251.89,36.11 L254.44,36.29 L256.99,36.45 L259.54,36.61 L262.10,36.75 L264.65,36.89 L267.20,37.02 L269.75,37.13 L272.31,37.24 L274.86,37.34 L277.41,37.44 L279.96,37.52 L282.51,37.59 L285.07,37.65 L287.62,37.71 L290.17,37.75 L292.72,37.79 L295.27,37.82 L297.83,37.83 L300.38,37.84 L302.93,37.84 L305.48,37.83 L308.04,37.81 L310.59,37.78 L313.14,37.74 L315.69,37.70 L318.24,37.64 L320.80,37.57 L323.35,37.50 L325.90,37.41 L328.45,37.32 L331.01,37.22 L333.56,37.10 L336.11,36.98 L338.66,36.85 L341.21,36.71 L343.77,36.57 L346.32,36.41 L348.87,36.24 L351.42,36.07 L353.98,35.89 L356.53,35.69 L359.08,35.49 L361.63,35.28 L364.18,35.06 L366.74,34.84 L369.29,34.60 L371.84,34.36 L374.39,34.10 L376.95,33.84 L379.50,33.57 L382.05,33.30 L384.60,33.01 L387.15,32.72 L389.71,32.42 L392.26,32.11 L394.81,31.79 L397.36,31.46 L399.92,31.13 L402.47,30.79 L405.02,30.44 L407.57,30.09 L410.12,29.72 L412.68,29.35 L415.23,28.97 L417.78,28.59 L420.33,28.19 L422.89,27.79 L425.44,27.39 L427.99,26.97"/>
<path d="M137.04,264.47 L139.59,263.96 L142.14,263.46 L144.69,262.96 L147.25,262.47 L149.80,261.99 L152.35,261.51 L154.90,261.04 L157.46,260.57 L160.01,260.12 L162.56,259.66 L165.11,259.22 L167.66,258.78 L170.22,258.34 L172.77,257.92 L175.32,257.50 L177.87,257.09 L180.43,256.68 L182.98,256.28 L185.53,255.89 L188.08,255.51 L190.63,255.13 L193.19,254.76 L195.74,254.40 L198.29,254.05 L200.84,253.70 L203.40,253.36 L205.95,253.03 L208.50,252.71 L211.05,252.39 L213.60,252.09 L216.16,251.79 L218.71,251.49 L221.26,251.21 L223.81,250.94 L226.37,250.67 L228.92,250.41 L231.47,250.16 L234.02,249.92 L236.57,249.68 L239.13,249.46 L241.68,249.24 L244.23,249.04 L246.78,248.84 L249.34,248.65 L251.89,248.47 L254.44,248.29 L256.99,248.13 L259.54,247.97 L262.10,247.83 L264.65,247.69 L267.20,247.56 L269.75,247.45 L272.31,247.34 L274.86,247.24 L277.41,247.14 L279.96,247.06 L282.51,246.99 L285.07,246.93 L287.62,246.87 L290.17,246.83 L292.72,246.79 L295.27,246.76 L297.83,246.75 L300.38,246.74 L302.93,246.74 L305.48,246.75 L308.04,246.77 L310.59,246.80 L313.14,246.84 L315.69,246.88 L318.24,246.94 L320.80,247.01 L323.35,247.08 L325.90,247.17 L328.45,247.26 L331.01,247.36 L333.56,247.48 L336.11,247.60 L338.66,247.73 L341.21,247.87 L343.77,248.01 L346.32,248.17 L348.87,248.34 L351.42,248.51 L353.98,248.69 L356.53,248.89 L359.08,249.09 L361.63,249.30 L364.18,249.52 L366.74,249.74 L369.29,249.98 L371.84,250.22 L374.39,250.48 L376.95,250.74 L379.50,251.01 L382.05,251.28 L384.60,251.57 L387.15,251.86 L389.71,252.16 L392.26,252.47 L394.81,252.79 L397.36,253.12 L399.92,253.45 L402.47,253.79 L405.02,254.14 L407.57,254.49 L410.12,254.86 L412.68,255.23 L415.23,255.61 L417.78,255.99 L420.33,256.39 L422.89,256.79 L425.44,257.19 L427.99,257.61"/>
</g>
<g stroke="#0000ff" stroke-width="1.45">
<path d="M48.01,191.16 L427.99,44.55"/>
<path d="M48.01,79.47 L50.54,80.22 L53.08,80.97 L55.61,81.72 L58.14,82.46 L60.68,83.19 L63.21,83.91 L65.74,84.63 L68.28,85.34 L70.81,86.04 L73.34,86.73 L75.88,87.41 L78.41,88.09 L80.94,88.75 L83.47,89.41 L86.01,90.05 L88.54,90.69 L91.07,91.31 L93.61,91.92 L96.14,92.52 L98.67,93.11 L101.21,93.69 L103.74,94.25 L106.27,94.80 L108.81,95.34 L111.34,95.86 L113.87,96.37 L116.41,96.86 L118.94,97.34 L121.47,97.80 L124.01,98.24 L126.54,98.66 L129.07,99.07 L131.61,99.46 L134.14,99.83 L136.67,100.18 L139.21,100.51 L141.74,100.82 L144.27,101.11 L146.80,101.37 L149.34,101.62 L151.87,101.84 L154.40,102.05 L156.94,102.22 L159.47,102.38 L162.00,102.51 L164.54,102.62 L167.07,102.70 L169.60,102.76 L172.14,102.80 L174.67,102.81 L177.20,102.80 L179.74,102.76 L182.27,102.70 L184.80,102.62 L187.34,102.51 L189.87,102.38 L192.40,102.22 L194.94,102.05 L197.47,101.84 L200.00,101.62 L202.54,101.37 L205.07,101.11 L207.60,100.82 L210.13,100.51 L212.67,100.18 L215.20,99.83 L217.73,99.46 L220.27,99.07 L222.80,98.66 L225.33,98.24 L227.87,97.80 L230.40,97.34 L232.93,96.86 L235.47,96.37 L238.00,95.86 L240.53,95.34 L243.07,94.80 L245.60,94.25 L248.13,93.69 L250.67,93.11 L253.20,92.52 L255.73,91.92 L258.27,91.31 L260.80,90.69 L263.33,90.05 L265.87,89.41 L268.40,88.75 L270.93,88.09 L273.46,87.41 L276.00,86.73 L278.53,86.04 L281.06,85.34 L283.60,84.63 L286.13,83.91 L288.66,83.19 L291.20,82.46 L293.73,81.72 L296.26,80.97 L298.80,80.22 L301.33,79.47 L303.86,78.70 L306.40,77.93 L308.93,77.16 L311.46,76.38 L314.00,75.59 L316.53,74.80 L319.06,74.01 L321.60,73.21 L324.13,72.40 L326.66,71.59 L329.20,70.78 L331.73,69.96 L334.26,69.14 L336.79,68.32 L339.33,67.49 L341.86,66.66 L344.39,65.82 L346.93,64.98 L349.46,64.14 L351.99,63.30 L354.53,62.45 L357.06,61.60 L359.59,60.74 L362.13,59.89 L364.66,59.03 L367.19,58.17 L369.73,57.30 L372.26,56.44 L374.79,55.57 L377.33,54.69 L379.86,53.82 L382.39,52.95 L384.93,52.07 L387.46,51.19 L389.99,50.31 L392.53,49.42 L395.06,48.54 L397.59,47.65 L400.12,46.76 L402.66,45.87 L405.19,44.98 L407.72,44.08 L410.26,43.19 L412.79,42.29 L415.32,41.39 L417.86,40.49 L420.39,39.59 L422.92,38.68 L425.46,37.78 L427.99,36.87"/>
<path d="M48.01,205.11 L50.54,204.36 L53.08,203.61 L55.61,202.86 L58.14,202.12 L60.68,201.39 L63.21,200.67 L65.74,199.95 L68.28,199.24 L70.81,198.54 L73.34,197.85 L75.88,197.17 L78.41,196.49 L80.94,195.83 L83.47,195.17 L86.01,194.53 L88.54,193.89 L91.07,193.27 L93.61,192.66 L96.14,192.06 L98.67,191.47 L101.21,190.89 L103.74,190.33 L106.27,189.78 L108.81,189.24 L111.34,188.72 L113.87,188.21 L116.41,187.72 L118.94,187.24 L121.47,186.78 L124.01,186.34 L126.54,185.92 L129.07,185.51 L131.61,185.12 L134.14,184.75 L136.67,184.40 L139.21,184.07 L141.74,183.76 L144.27,183.47 L146.80,183.21 L149.34,182.96 L151.87,182.74 L154.40,182.53 L156.94,182.36 L159.47,182.20 L162.00,182.07 L164.54,181.96 L167.07,181.88 L169.60,181.82 L172.14,181.78 L174.67,181.77 L177.20,181.78 L179.74,181.82 L182.27,181.88 L184.80,181.96 L187.34,182.07 L189.87,182.20 L192.40,182.36 L194.94,182.53 L197.47,182.74 L200.00,182.96 L202.54,183.21 L205.07,183.47 L207.60,183.76 L210.13,184.07 L212.67,184.40 L215.20,184.75 L217.73,185.12 L220.27,185.51 L222.80,185.92 L225.33,186.34 L227.87,186.78 L230.40,187.24 L232.93,187.72 L235.47,188.21 L238.00,188.72 L240.53,189.24 L243.07,189.78 L245.60,190.33 L248.13,190.89 L250.67,191.47 L253.20,192.06 L255.73,192.66 L258.27,193.27 L260.80,193.89 L263.33,194.53 L265.87,195.17 L268.40,195.83 L270.93,196.49 L273.46,197.17 L276.00,197.85 L278.53,198.54 L281.06,199.24 L283.60,199.95 L286.13,200.67 L288.66,201.39 L291.20,202.12 L293.73,202.86 L296.26,203.61 L298.80,204.36 L301.33,205.11 L303.86,205.88 L306.40,206.65 L308.93,207.42 L311.46,208.20 L314.00,208.99 L316.53,209.78 L319.06,210.57 L321.60,211.37 L324.13,212.18 L326.66,212.99 L329.20,213.80 L331.73,214.62 L334.26,215.44 L336.79,216.26 L339.33,217.09 L341.86,217.92 L344.39,218.76 L346.93,219.60 L349.46,220.44 L351.99,221.28 L354.53,222.13 L357.06,222.98 L359.59,223.84 L362.13,224.69 L364.66,225.55 L367.19,226.41 L369.73,227.28 L372.26,228.14 L374.79,229.01 L377.33,229.89 L379.86,230.76 L382.39,231.63 L384.93,232.51 L387.46,233.39 L389.99,234.27 L392.53,235.16 L395.06,236.04 L397.59,236.93 L400.12,237.82 L402.66,238.71 L405.19,239.60 L407.72,240.50 L410.26,241.39 L412.79,242.29 L415.32,243.19 L417.86,244.09 L420.39,244.99 L422.92,245.90 L425.46,246.80 L427.99,247.71"/>
<path d="M48.01,68.09 L50.54,68.73 L53.08,69.36 L55.61,69.99 L58.14,70.61 L60.68,71.22 L63.21,71.82 L65.74,72.41 L68.28,72.99 L70.81,73.57 L73.34,74.13 L75.88,74.69 L78.41,75.23 L80.94,75.77 L83.47,76.30 L86.01,76.81 L88.54,77.32 L91.07,77.81 L93.61,78.30 L96.14,78.77 L98.67,79.23 L101.21,79.68 L103.74,80.11 L106.27,80.54 L108.81,80.95 L111.34,81.35 L113.87,81.73 L116.41,82.10 L118.94,82.46 L121.47,82.81 L124.01,83.14 L126.54,83.45 L129.07,83.75 L131.61,84.04 L134.14,84.31 L136.67,84.57 L139.21,84.81 L141.74,85.03 L144.27,85.24 L146.80,85.43 L149.34,85.61 L151.87,85.77 L154.40,85.92 L156.94,86.04 L159.47,86.15 L162.00,86.25 L164.54,86.32 L167.07,86.38 L169.60,86.43 L172.14,86.45 L174.67,86.46 L177.20,86.45 L179.74,86.43 L182.27,86.38 L184.80,86.32 L187.34,86.25 L189.87,86.15 L192.40,86.04 L194.94,85.92 L197.47,85.77 L200.00,85.61 L202.54,85.43 L205.07,85.24 L207.60,85.03 L210.13,84.81 L212.67,84.57 L215.20,84.31 L217.73,84.04 L220.27,83.75 L222.80,83.45 L225.33,83.14 L227.87,82.81 L230.40,82.46 L232.93,82.10 L235.47,81.73 L238.00,81.35 L240.53,80.95 L243.07,80.54 L245.60,80.11 L248.13,79.68 L250.67,79.23 L253.20,78.77 L255.73,78.30 L258.27,77.81 L260.80,77.32 L263.33,76.81 L265.87,76.30 L268.40,75.77 L270.93,75.23 L273.46,74.69 L276.00,74.13 L278.53,73.57 L281.06,72.99 L283.60,72.41 L286.13,71.82 L288.66,71.22 L291.20,70.61 L293.73,69.99 L296.26,69.36 L298.80,68.73 L301.33,68.09 L303.86,67.44 L306.40,66.79 L308.93,66.13 L311.46,65.46 L314.00,64.79 L316.53,64.10 L319.06,63.42 L321.60,62.72 L324.13,62.02 L326.66,61.32 L329.20,60.61 L331.73,59.89 L334.26,59.17 L336.79,58.44 L339.33,57.71 L341.86,56.98 L344.39,56.23 L346.93,55.49 L349.46,54.74 L351.99,53.98 L354.53,53.22 L357.06,52.46 L359.59,51.69 L362.13,50.92 L364.66,50.14 L367.19,49.36 L369.73,48.58 L372.26,47.79 L374.79,47.00 L377.33,46.21 L379.86,45.41 L382.39,44.61 L384.93,43.81 L387.46,43.00 L389.99,42.19 L392.53,41.38 L395.06,40.56 L397.59,39.74 L400.12,38.92 L402.66,38.10 L405.19,37.27 L407.72,36.44 L410.26,35.61 L412.79,34.78 L415.32,33.94 L417.86,33.10 L420.39,32.26 L422.92,31.42 L425.46,30.57 L427.99,29.73"/>
<path d="M48.01,216.49 L50.54,215.85 L53.08,215.22 L55.61,214.59 L58.14,213.97 L60.68,213.36 L63.21,212.76 L65.74,212.17 L68.28,211.59 L70.81,211.01 L73.34,210.45 L75.88,209.89 L78.41,209.35 L80.94,208.81 L83.47,208.28 L86.01,207.77 L88.54,207.26 L91.07,206.77 L93.61,206.28 L96.14,205.81 L98.67,205.35 L101.21,204.90 L103.74,204.47 L106.27,204.04 L108.81,203.63 L111.34,203.23 L113.87,202.85 L116.41,202.48 L118.94,202.12 L121.47,201.77 L124.01,201.44 L126.54,201.13 L129.07,200.83 L131.61,200.54 L134.14,200.27 L136.67,200.01 L139.21,199.77 L141.74,199.55 L144.27,199.34 L146.80,199.15 L149.34,198.97 L151.87,198.81 L154.40,198.66 L156.94,198.54 L159.47,198.43 L162.00,198.33 L164.54,198.26 L167.07,198.20 L169.60,198.15 L172.14,198.13 L174.67,198.12 L177.20,198.13 L179.74,198.15 L182.27,198.20 L184.80,198.26 L187.34,198.33 L189.87,198.43 L192.40,198.54 L194.94,198.66 L197.47,198.81 L200.00,198.97 L202.54,199.15 L205.07,199.34 L207.60,199.55 L210.13,199.77 L212.67,200.01 L215.20,200.27 L217.73,200.54 L220.27,200.83 L222.80,201.13 L225.33,201.44 L227.87,201.77 L230.40,202.12 L232.93,202.48 L235.47,202.85 L238.00,203.23 L240.53,203.63 L243.07,204.04 L245.60,204.47 L248.13,204.90 L250.67,205.35 L253.20,205.81 L255.73,206.28 L258.27,206.77 L260.80,207.26 L263.33,207.77 L265.87,208.28 L268.40,208.81 L270.93,209.35 L273.46,209.89 L276.00,210.45 L278.53,211.01 L281.06,211.59 L283.60,212.17 L286.13,212.76 L288.66,213.36 L291.20,213.97 L293.73,214.59 L296.26,215.22 L298.80,215.85 L301.33,216.49 L303.86,217.14 L306.40,217.79 L308.93,218.45 L311.46,219.12 L314.00,219.79 L316.53,220.48 L319.06,221.16 L321.60,221.86 L324.13,222.56 L326.66,223.26 L329.20,223.97 L331.73,224.69 L334.26,225.41 L336.79,226.14 L339.33,226.87 L341.86,227.60 L344.39,228.35 L346.93,229.09 L349.46,229.84 L351.99,230.60 L354.53,231.36 L357.06,232.12 L359.59,232.89 L362.13,233.66 L364.66,234.44 L367.19,235.22 L369.73,236.00 L372.26,236.79 L374.79,237.58 L377.33,238.37 L379.86,239.17 L382.39,239.97 L384.93,240.77 L387.46,241.58 L389.99,242.39 L392.53,243.20 L395.06,244.02 L397.59,244.84 L400.12,245.66 L402.66,246.48 L405.19,247.31 L407.72,248.14 L410.26,248.97 L412.79,249.80 L415.32,250.64 L417.86,251.48 L420.39,252.32 L422.92,253.16 L425.46,254.01 L427.99,254.85"/>
<path d="M48.01,58.24 L50.54,58.81 L53.08,59.36 L55.61,59.91 L58.14,60.45 L60.68,60.99 L63.21,61.51 L65.74,62.03 L68.28,62.54 L70.81,63.03 L73.34,63.52 L75.88,64.00 L78.41,64.48 L80.94,64.94 L83.47,65.39 L86.01,65.83 L88.54,66.26 L91.07,66.69 L93.61,67.10 L96.14,67.50 L98.67,67.89 L101.21,68.27 L103.74,68.64 L106.27,69.00 L108.81,69.34 L111.34,69.68 L113.87,70.00 L116.41,70.31 L118.94,70.61 L121.47,70.90 L124.01,71.17 L126.54,71.44 L129.07,71.69 L131.61,71.92 L134.14,72.15 L136.67,72.36 L139.21,72.56 L141.74,72.74 L144.27,72.91 L146.80,73.07 L149.34,73.22 L151.87,73.35 L154.40,73.47 L156.94,73.57 L159.47,73.66 L162.00,73.74 L164.54,73.80 L167.07,73.85 L169.60,73.88 L172.14,73.91 L174.67,73.91 L177.20,73.91 L179.74,73.88 L182.27,73.85 L184.80,73.80 L187.34,73.74 L189.87,73.66 L192.40,73.57 L194.94,73.47 L197.47,73.35 L200.00,73.22 L202.54,73.07 L205.07,72.91 L207.60,72.74 L210.13,72.56 L212.67,72.36 L215.20,72.15 L217.73,71.92 L220.27,71.69 L222.80,71.44 L225.33,71.17 L227.87,70.90 L230.40,70.61 L232.93,70.31 L235.47,70.00 L238.00,69.68 L240.53,69.34 L243.07,69.00 L245.60,68.64 L248.13,68.27 L250.67,67.89 L253.20,67.50 L255.73,67.10 L258.27,66.69 L260.80,66.26 L263.33,65.83 L265.87,65.39 L268.40,64.94 L270.93,64.48 L273.46,64.00 L276.00,63.52 L278.53,63.03 L281.06,62.54 L283.60,62.03 L286.13,61.51 L288.66,60.99 L291.20,60.45 L293.73,59.91 L296.26,59.36 L298.80,58.81 L301.33,58.24 L303.86,57.67 L306.40,57.09 L308.93,56.50 L311.46,55.91 L314.00,55.31 L316.53,54.70 L319.06,54.09 L321.60,53.47 L324.13,52.84 L326.66,52.21 L329.20,51.57 L331.73,50.92 L334.26,50.27 L336.79,49.61 L339.33,48.95 L341.86,48.28 L344.39,47.61 L346.93,46.93 L349.46,46.25 L351.99,45.56 L354.53,44.87 L357.06,44.17 L359.59,43.46 L362.13,42.76 L364.66,42.04 L367.19,41.33 L369.73,40.60 L372.26,39.88 L374.79,39.15 L377.33,38.42 L379.86,37.68 L382.39,36.94 L384.93,36.19 L387.46,35.44 L389.99,34.69 L392.53,33.93 L395.06,33.17 L397.59,32.41 L400.12,31.64 L402.66,30.87 L405.19,30.10 L407.72,29.32 L410.26,28.54 L412.79,27.76 L415.32,26.97 L417.86,26.19 L420.39,25.39 L422.92,24.60 L425.46,23.80 L427.99,23.00"/>
<path d="M48.01,226.34 L50.54,225.77 L53.08,225.22 L55.61,224.67 L58.14,224.13 L60.68,223.59 L63.21,223.07 L65.74,222.55 L68.28,222.04 L70.81,221.55 L73.34,221.06 L75.88,220.58 L78.41,220.10 L80.94,219.64 L83.47,219.19 L86.01,218.75 L88.54,218.32 L91.07,217.89 L93.61,217.48 L96.14,217.08 L98.67,216.69 L101.21,216.31 L103.74,215.94 L106.27,215.58 L108.81,215.24 L111.34,214.90 L113.87,214.58 L116.41,214.27 L118.94,213.97 L121.47,213.68 L124.01,213.41 L126.54,213.14 L129.07,212.89 L131.61,212.66 L134.14,212.43 L136.67,212.22 L139.21,212.02 L141.74,211.84 L144.27,211.67 L146.80,211.51 L149.34,211.36 L151.87,211.23 L154.40,211.11 L156.94,211.01 L159.47,210.92 L162.00,210.84 L164.54,210.78 L167.07,210.73 L169.60,210.70 L172.14,210.67 L174.67,210.67 L177.20,210.67 L179.74,210.70 L182.27,210.73 L184.80,210.78 L187.34,210.84 L189.87,210.92 L192.40,211.01 L194.94,211.11 L197.47,211.23 L200.00,211.36 L202.54,211.51 L205.07,211.67 L207.60,211.84 L210.13,212.02 L212.67,212.22 L215.20,212.43 L217.73,212.66 L220.27,212.89 L222.80,213.14 L225.33,213.41 L227.87,213.68 L230.40,213.97 L232.93,214.27 L235.47,214.58 L238.00,214.90 L240.53,215.24 L243.07,215.58 L245.60,215.94 L248.13,216.31 L250.67,216.69 L253.20,217.08 L255.73,217.48 L258.27,217.89 L260.80,218.32 L263.33,218.75 L265.87,219.19 L268.40,219.64 L270.93,220.10 L273.46,220.58 L276.00,221.06 L278.53,221.55 L281.06,222.04 L283.60,222.55 L286.13,223.07 L288.66,223.59 L291.20,224.13 L293.73,224.67 L296.26,225.22 L298.80,225.77 L301.33,226.34 L303.86,226.91 L306.40,227.49 L308.93,228.08 L311.46,228.67 L314.00,229.27 L316.53,229.88 L319.06,230.49 L321.60,231.11 L324.13,231.74 L326.66,232.37 L329.20,233.01 L331.73,233.66 L334.26,234.31 L336.79,234.97 L339.33,235.63 L341.86,236.30 L344.39,236.97 L346.93,237.65 L349.46,238.33 L351.99,239.02 L354.53,239.71 L357.06,240.41 L359.59,241.12 L362.13,241.82 L364.66,242.54 L367.19,243.25 L369.73,243.98 L372.26,244.70 L374.79,245.43 L377.33,246.16 L379.86,246.90 L382.39,247.64 L384.93,248.39 L387.46,249.14 L389.99,249.89 L392.53,250.65 L395.06,251.41 L397.59,252.17 L400.12,252.94 L402.66,253.71 L405.19,254.48 L407.72,255.26 L410.26,256.04 L412.79,256.82 L415.32,257.61 L417.86,258.39 L420.39,259.19 L422.92,259.98 L425.46,260.78 L427.99,261.58"/>
<path d="M48.01,49.43 L50.55,49.95 L53.09,50.45 L55.63,50.95 L58.17,51.44 L60.71,51.92 L63.25,52.39 L65.79,52.85 L68.33,53.31 L70.87,53.76 L73.41,54.20 L75.95,54.63 L78.49,55.05 L81.03,55.46 L83.57,55.86 L86.11,56.26 L88.65,56.64 L91.19,57.02 L93.73,57.38 L96.27,57.74 L98.81,58.08 L101.35,58.42 L103.89,58.75 L106.43,59.06 L108.97,59.37 L111.51,59.66 L114.05,59.94 L116.59,60.22 L119.13,60.48 L121.67,60.73 L124.21,60.97 L126.75,61.20 L129.29,61.42 L131.83,61.62 L134.37,61.82 L136.91,62.00 L139.45,62.17 L141.99,62.33 L144.53,62.48 L147.07,62.62 L149.61,62.75 L152.15,62.86 L154.69,62.96 L157.23,63.05 L159.77,63.13 L162.31,63.19 L164.85,63.24 L167.39,63.28 L169.93,63.31 L172.47,63.33 L175.01,63.33 L177.55,63.33 L180.09,63.31 L182.63,63.28 L185.17,63.23 L187.71,63.17 L190.25,63.11 L192.79,63.03 L195.33,62.93 L197.87,62.83 L200.41,62.71 L202.95,62.58 L205.50,62.44 L208.04,62.29 L210.58,62.13 L213.12,61.95 L215.66,61.77 L218.20,61.57 L220.74,61.36 L223.28,61.14 L225.82,60.91 L228.36,60.66 L230.90,60.41 L233.44,60.14 L235.98,59.87 L238.52,59.58 L241.06,59.28 L243.60,58.98 L246.14,58.66 L248.68,58.33 L251.22,57.99 L253.76,57.64 L256.30,57.28 L258.84,56.92 L261.38,56.54 L263.92,56.15 L266.46,55.76 L269.00,55.35 L271.54,54.93 L274.08,54.51 L276.62,54.08 L279.16,53.64 L281.70,53.19 L284.24,52.73 L286.78,52.26 L289.32,51.79 L291.86,51.30 L294.40,50.81 L296.94,50.31 L299.48,49.81 L302.02,49.29 L304.56,48.77 L307.10,48.24 L309.64,47.71 L312.18,47.16 L314.72,46.61 L317.26,46.06 L319.80,45.49 L322.34,44.92 L324.88,44.35 L327.42,43.76 L329.96,43.17 L332.50,42.58 L335.04,41.98 L337.58,41.37 L340.12,40.76 L342.66,40.14 L345.20,39.51 L347.74,38.88 L350.28,38.25 L352.82,37.60 L355.36,36.96 L357.90,36.31 L360.44,35.65 L362.98,34.99 L365.52,34.32 L368.06,33.65 L370.60,32.98 L373.14,32.30 L375.68,31.61 L378.22,30.92 L380.76,30.23 L383.30,29.53 L385.84,28.83 L388.38,28.12 L390.92,27.41 L393.46,26.70 L396.00,25.98 L398.54,25.26 L401.08,24.54 L403.62,23.81 L406.16,23.07 L408.70,22.34 L411.24,21.60 L413.78,20.86 L416.32,20.11"/>
<path d="M48.01,235.15 L50.55,234.63 L53.09,234.13 L55.63,233.63 L58.17,233.14 L60.71,232.66 L63.25,232.19 L65.79,231.73 L68.33,231.27 L70.87,230.82 L73.41,230.38 L75.95,229.95 L78.49,229.53 L81.03,229.12 L83.57,228.72 L86.11,228.32 L88.65,227.94 L91.19,227.56 L93.73,227.20 L96.27,226.84 L98.81,226.50 L101.35,226.16 L103.89,225.83 L106.43,225.52 L108.97,225.21 L111.51,224.92 L114.05,224.64 L116.59,224.36 L119.13,224.10 L121.67,223.85 L124.21,223.61 L126.75,223.38 L129.29,223.16 L131.83,222.96 L134.37,222.76 L136.91,222.58 L139.45,222.41 L141.99,222.25 L144.53,222.10 L147.07,221.96 L149.61,221.83 L152.15,221.72 L154.69,221.62 L157.23,221.53 L159.77,221.45 L162.31,221.39 L164.85,221.34 L167.39,221.30 L169.93,221.27 L172.47,221.25 L175.01,221.25 L177.55,221.25 L180.09,221.27 L182.63,221.30 L185.17,221.35 L187.71,221.41 L190.25,221.47 L192.79,221.55 L195.33,221.65 L197.87,221.75 L200.41,221.87 L202.95,222.00 L205.50,222.14 L208.04,222.29 L210.58,222.45 L213.12,222.63 L215.66,222.81 L218.20,223.01 L220.74,223.22 L223.28,223.44 L225.82,223.67 L228.36,223.92 L230.90,224.17 L233.44,224.44 L235.98,224.71 L238.52,225.00 L241.06,225.30 L243.60,225.60 L246.14,225.92 L248.68,226.25 L251.22,226.59 L253.76,226.94 L256.30,227.30 L258.84,227.66 L261.38,228.04 L263.92,228.43 L266.46,228.82 L269.00,229.23 L271.54,229.65 L274.08,230.07 L276.62,230.50 L279.16,230.94 L281.70,231.39 L284.24,231.85 L286.78,232.32 L289.32,232.79 L291.86,233.28 L294.40,233.77 L296.94,234.27 L299.48,234.77 L302.02,235.29 L304.56,235.81 L307.10,236.34 L309.64,236.87 L312.18,237.42 L314.72,237.97 L317.26,238.52 L319.80,239.09 L322.34,239.66 L324.88,240.23 L327.42,240.82 L329.96,241.41 L332.50,242.00 L335.04,242.60 L337.58,243.21 L340.12,243.82 L342.66,244.44 L345.20,245.07 L347.74,245.70 L350.28,246.33 L352.82,246.98 L355.36,247.62 L357.90,248.27 L360.44,248.93 L362.98,249.59 L365.52,250.26 L368.06,250.93 L370.60,251.60 L373.14,252.28 L375.68,252.97 L378.22,253.66 L380.76,254.35 L383.30,255.05 L385.84,255.75 L388.38,256.46 L390.92,257.17 L393.46,257.88 L396.00,258.60 L398.54,259.32 L401.08,260.04 L403.62,260.77 L406.16,261.51 L408.70,262.24 L411.24,262.98 L413.78,263.72 L416.32,264.47"/>
<path d="M48.01,41.39 L50.55,41.86 L53.09,42.32 L55.63,42.78 L58.17,43.23 L60.72,43.67 L63.26,44.10 L65.80,44.53 L68.34,44.95 L70.88,45.36 L73.42,45.76 L75.96,46.15 L78.50,46.53 L81.04,46.91 L83.58,47.28 L86.13,47.63 L88.67,47.98 L91.21,48.32 L93.75,48.66 L96.29,48.98 L98.83,49.29 L101.37,49.60 L103.91,49.89 L106.45,50.17 L109.00,50.45 L111.54,50.72 L114.08,50.97 L116.62,51.22 L119.16,51.45 L121.70,51.68 L124.24,51.90 L126.78,52.10 L129.32,52.30 L131.86,52.48 L134.41,52.66 L136.95,52.82 L139.49,52.98 L142.03,53.12 L144.57,53.25 L147.11,53.38 L149.65,53.49 L152.19,53.59 L154.73,53.68 L157.28,53.76 L159.82,53.83 L162.36,53.89 L164.90,53.93 L167.44,53.97 L169.98,54.00 L172.52,54.01 L175.06,54.02 L177.60,54.01 L180.15,53.99 L182.69,53.96 L185.23,53.92 L187.77,53.87 L190.31,53.81 L192.85,53.74 L195.39,53.65 L197.93,53.56 L200.47,53.46 L203.01,53.34 L205.56,53.21 L208.10,53.08 L210.64,52.93 L213.18,52.77 L215.72,52.61 L218.26,52.43 L220.80,52.24 L223.34,52.04 L225.88,51.83 L228.43,51.61 L230.97,51.38 L233.51,51.14 L236.05,50.89 L238.59,50.63 L241.13,50.37 L243.67,50.09 L246.21,49.80 L248.75,49.50 L251.29,49.20 L253.84,48.88 L256.38,48.55 L258.92,48.22 L261.46,47.88 L264.00,47.52 L266.54,47.16 L269.08,46.79 L271.62,46.42 L274.16,46.03 L276.71,45.63 L279.25,45.23 L281.79,44.82 L284.33,44.40 L286.87,43.97 L289.41,43.54 L291.95,43.09 L294.49,42.64 L297.03,42.18 L299.57,41.72 L302.12,41.24 L304.66,40.76 L307.20,40.27 L309.74,39.78 L312.28,39.28 L314.82,38.77 L317.36,38.25 L319.90,37.73 L322.44,37.20 L324.99,36.67 L327.53,36.12 L330.07,35.58 L332.61,35.02 L335.15,34.46 L337.69,33.90 L340.23,33.33 L342.77,32.75 L345.31,32.16 L347.85,31.58 L350.40,30.98 L352.94,30.38 L355.48,29.78 L358.02,29.16 L360.56,28.55 L363.10,27.93 L365.64,27.30 L368.18,26.67 L370.72,26.04 L373.27,25.40 L375.81,24.75 L378.35,24.10 L380.89,23.45 L383.43,22.79 L385.97,22.12 L388.51,21.46 L391.05,20.79 L393.59,20.11"/>
<path d="M48.01,243.19 L50.55,242.72 L53.09,242.26 L55.63,241.80 L58.17,241.35 L60.72,240.91 L63.26,240.48 L65.80,240.05 L68.34,239.63 L70.88,239.22 L73.42,238.82 L75.96,238.43 L78.50,238.05 L81.04,237.67 L83.58,237.30 L86.13,236.95 L88.67,236.60 L91.21,236.26 L93.75,235.92 L96.29,235.60 L98.83,235.29 L101.37,234.98 L103.91,234.69 L106.45,234.41 L109.00,234.13 L111.54,233.86 L114.08,233.61 L116.62,233.36 L119.16,233.13 L121.70,232.90 L124.24,232.68 L126.78,232.48 L129.32,232.28 L131.86,232.10 L134.41,231.92 L136.95,231.76 L139.49,231.60 L142.03,231.46 L144.57,231.33 L147.11,231.20 L149.65,231.09 L152.19,230.99 L154.73,230.90 L157.28,230.82 L159.82,230.75 L162.36,230.69 L164.90,230.65 L167.44,230.61 L169.98,230.58 L172.52,230.57 L175.06,230.56 L177.60,230.57 L180.15,230.59 L182.69,230.62 L185.23,230.66 L187.77,230.71 L190.31,230.77 L192.85,230.84 L195.39,230.93 L197.93,231.02 L200.47,231.12 L203.01,231.24 L205.56,231.37 L208.10,231.50 L210.64,231.65 L213.18,231.81 L215.72,231.97 L218.26,232.15 L220.80,232.34 L223.34,232.54 L225.88,232.75 L228.43,232.97 L230.97,233.20 L233.51,233.44 L236.05,233.69 L238.59,233.95 L241.13,234.21 L243.67,234.49 L246.21,234.78 L248.75,235.08 L251.29,235.38 L253.84,235.70 L256.38,236.03 L258.92,236.36 L261.46,236.70 L264.00,237.06 L266.54,237.42 L269.08,237.79 L271.62,238.16 L274.16,238.55 L276.71,238.95 L279.25,239.35 L281.79,239.76 L284.33,240.18 L286.87,240.61 L289.41,241.04 L291.95,241.49 L294.49,241.94 L297.03,242.40 L299.57,242.86 L302.12,243.34 L304.66,243.82 L307.20,244.31 L309.74,244.80 L312.28,245.30 L314.82,245.81 L317.36,246.33 L319.90,246.85 L322.44,247.38 L324.99,247.91 L327.53,248.46 L330.07,249.00 L332.61,249.56 L335.15,250.12 L337.69,250.68 L340.23,251.25 L342.77,251.83 L345.31,252.42 L347.85,253.00 L350.40,253.60 L352.94,254.20 L355.48,254.80 L358.02,255.42 L360.56,256.03 L363.10,256.65 L365.64,257.28 L368.18,257.91 L370.72,258.54 L373.27,259.18 L375.81,259.83 L378.35,260.48 L380.89,261.13 L383.43,261.79 L385.97,262.46 L388.51,263.12 L391.05,263.79 L393.59,264.47"/>
<path d="M48.01,33.94 L50.55,34.38 L53.09,34.81 L55.63,35.24 L58.18,35.65 L60.72,36.06 L63.26,36.47 L65.80,36.86 L68.34,37.25 L70.88,37.63 L73.42,38.00 L75.96,38.36 L78.51,38.72 L81.05,39.06 L83.59,39.40 L86.13,39.73 L88.67,40.06 L91.21,40.37 L93.75,40.67 L96.29,40.97 L98.84,41.26 L101.38,41.54 L103.92,41.81 L106.46,42.07 L109.00,42.33 L111.54,42.57 L114.08,42.80 L116.63,43.03 L119.17,43.25 L121.71,43.45 L124.25,43.65 L126.79,43.84 L129.33,44.02 L131.87,44.19 L134.41,44.35 L136.96,44.50 L139.50,44.64 L142.04,44.77 L144.58,44.90 L147.12,45.01 L149.66,45.11 L152.20,45.20 L154.75,45.28 L157.29,45.36 L159.83,45.42 L162.37,45.47 L164.91,45.52 L167.45,45.55 L169.99,45.57 L172.53,45.59 L175.08,45.59 L177.62,45.58 L180.16,45.57 L182.70,45.54 L185.24,45.50 L187.78,45.46 L190.32,45.40 L192.86,45.34 L195.41,45.26 L197.95,45.17 L200.49,45.08 L203.03,44.97 L205.57,44.86 L208.11,44.73 L210.65,44.60 L213.20,44.45 L215.74,44.30 L218.28,44.14 L220.82,43.96 L223.36,43.78 L225.90,43.59 L228.44,43.39 L230.98,43.18 L233.53,42.96 L236.07,42.73 L238.61,42.49 L241.15,42.25 L243.69,41.99 L246.23,41.73 L248.77,41.45 L251.32,41.17 L253.86,40.88 L256.40,40.58 L258.94,40.27 L261.48,39.95 L264.02,39.63 L266.56,39.29 L269.10,38.95 L271.65,38.60 L274.19,38.25 L276.73,37.88 L279.27,37.51 L281.81,37.12 L284.35,36.73 L286.89,36.34 L289.43,35.93 L291.98,35.52 L294.52,35.10 L297.06,34.68 L299.60,34.24 L302.14,33.80 L304.68,33.35 L307.22,32.90 L309.77,32.44 L312.31,31.97 L314.85,31.49 L317.39,31.01 L319.93,30.52 L322.47,30.03 L325.01,29.52 L327.55,29.02 L330.10,28.50 L332.64,27.98 L335.18,27.46 L337.72,26.93 L340.26,26.39 L342.80,25.84 L345.34,25.30 L347.88,24.74 L350.43,24.18 L352.97,23.61 L355.51,23.04 L358.05,22.47 L360.59,21.89 L363.13,21.30 L365.67,20.71 L368.22,20.11"/>
<path d="M48.01,250.64 L50.55,250.20 L53.09,249.77 L55.63,249.34 L58.18,248.93 L60.72,248.52 L63.26,248.11 L65.80,247.72 L68.34,247.33 L70.88,246.95 L73.42,246.58 L75.96,246.22 L78.51,245.86 L81.05,245.52 L83.59,245.18 L86.13,244.85 L88.67,244.52 L91.21,244.21 L93.75,243.91 L96.29,243.61 L98.84,243.32 L101.38,243.04 L103.92,242.77 L106.46,242.51 L109.00,242.25 L111.54,242.01 L114.08,241.78 L116.63,241.55 L119.17,241.33 L121.71,241.13 L124.25,240.93 L126.79,240.74 L129.33,240.56 L131.87,240.39 L134.41,240.23 L136.96,240.08 L139.50,239.94 L142.04,239.81 L144.58,239.68 L147.12,239.57 L149.66,239.47 L152.20,239.38 L154.75,239.30 L157.29,239.22 L159.83,239.16 L162.37,239.11 L164.91,239.06 L167.45,239.03 L169.99,239.01 L172.53,238.99 L175.08,238.99 L177.62,239.00 L180.16,239.01 L182.70,239.04 L185.24,239.08 L187.78,239.12 L190.32,239.18 L192.86,239.24 L195.41,239.32 L197.95,239.41 L200.49,239.50 L203.03,239.61 L205.57,239.72 L208.11,239.85 L210.65,239.98 L213.20,240.13 L215.74,240.28 L218.28,240.44 L220.82,240.62 L223.36,240.80 L225.90,240.99 L228.44,241.19 L230.98,241.40 L233.53,241.62 L236.07,241.85 L238.61,242.09 L241.15,242.33 L243.69,242.59 L246.23,242.85 L248.77,243.13 L251.32,243.41 L253.86,243.70 L256.40,244.00 L258.94,244.31 L261.48,244.63 L264.02,244.95 L266.56,245.29 L269.10,245.63 L271.65,245.98 L274.19,246.33 L276.73,246.70 L279.27,247.07 L281.81,247.46 L284.35,247.85 L286.89,248.24 L289.43,248.65 L291.98,249.06 L294.52,249.48 L297.06,249.90 L299.60,250.34 L302.14,250.78 L304.68,251.23 L307.22,251.68 L309.77,252.14 L312.31,252.61 L314.85,253.09 L317.39,253.57 L319.93,254.06 L322.47,254.55 L325.01,255.06 L327.55,255.56 L330.10,256.08 L332.64,256.60 L335.18,257.12 L337.72,257.65 L340.26,258.19 L342.80,258.74 L345.34,259.28 L347.88,259.84 L350.43,260.40 L352.97,260.97 L355.51,261.54 L358.05,262.11 L360.59,262.69 L363.13,263.28 L365.67,263.87 L368.22,264.47"/>
<path d="M48.01,26.97 L50.56,27.39 L53.11,27.79 L55.67,28.19 L58.22,28.59 L60.77,28.97 L63.32,29.35 L65.88,29.72 L68.43,30.09 L70.98,30.44 L73.53,30.79 L76.08,31.13 L78.64,31.46 L81.19,31.79 L83.74,32.11 L86.29,32.42 L88.85,32.72 L91.40,33.01 L93.95,33.30 L96.50,33.57 L99.05,33.84 L101.61,34.10 L104.16,34.36 L106.71,34.60 L109.26,34.84 L111.82,35.06 L114.37,35.28 L116.92,35.49 L119.47,35.69 L122.02,35.89 L124.58,36.07 L127.13,36.24 L129.68,36.41 L132.23,36.57 L134.79,36.71 L137.34,36.85 L139.89,36.98 L142.44,37.10 L144.99,37.22 L147.55,37.32 L150.10,37.41 L152.65,37.50 L155.20,37.57 L157.76,37.64 L160.31,37.70 L162.86,37.74 L165.41,37.78 L167.96,37.81 L170.52,37.83 L173.07,37.84 L175.62,37.84 L178.17,37.83 L180.73,37.82 L183.28,37.79 L185.83,37.75 L188.38,37.71 L190.93,37.65 L193.49,37.59 L196.04,37.52 L198.59,37.44 L201.14,37.34 L203.69,37.24 L206.25,37.13 L208.80,37.02 L211.35,36.89 L213.90,36.75 L216.46,36.61 L219.01,36.45 L221.56,36.29 L224.11,36.11 L226.66,35.93 L229.22,35.74 L231.77,35.54 L234.32,35.34 L236.87,35.12 L239.43,34.90 L241.98,34.66 L244.53,34.42 L247.08,34.17 L249.63,33.91 L252.19,33.64 L254.74,33.37 L257.29,33.09 L259.84,32.79 L262.40,32.49 L264.95,32.19 L267.50,31.87 L270.05,31.55 L272.60,31.22 L275.16,30.88 L277.71,30.53 L280.26,30.18 L282.81,29.82 L285.37,29.45 L287.92,29.07 L290.47,28.69 L293.02,28.30 L295.57,27.90 L298.13,27.49 L300.68,27.08 L303.23,26.66 L305.78,26.24 L308.34,25.80 L310.89,25.36 L313.44,24.92 L315.99,24.46 L318.54,24.01 L321.10,23.54 L323.65,23.07 L326.20,22.59 L328.75,22.11 L331.31,21.62 L333.86,21.12 L336.41,20.62 L338.96,20.11"/>
<path d="M48.01,257.61 L50.56,257.19 L53.11,256.79 L55.67,256.39 L58.22,255.99 L60.77,255.61 L63.32,255.23 L65.88,254.86 L68.43,254.49 L70.98,254.14 L73.53,253.79 L76.08,253.45 L78.64,253.12 L81.19,252.79 L83.74,252.47 L86.29,252.16 L88.85,251.86 L91.40,251.57 L93.95,251.28 L96.50,251.01 L99.05,250.74 L101.61,250.48 L104.16,250.22 L106.71,249.98 L109.26,249.74 L111.82,249.52 L114.37,249.30 L116.92,249.09 L119.47,248.89 L122.02,248.69 L124.58,248.51 L127.13,248.34 L129.68,248.17 L132.23,248.01 L134.79,247.87 L137.34,247.73 L139.89,247.60 L142.44,247.48 L144.99,247.36 L147.55,247.26 L150.10,247.17 L152.65,247.08 L155.20,247.01 L157.76,246.94 L160.31,246.88 L162.86,246.84 L165.41,246.80 L167.96,246.77 L170.52,246.75 L173.07,246.74 L175.62,246.74 L178.17,246.75 L180.73,246.76 L183.28,246.79 L185.83,246.83 L188.38,246.87 L190.93,246.93 L193.49,246.99 L196.04,247.06 L198.59,247.14 L201.14,247.24 L203.69,247.34 L206.25,247.45 L208.80,247.56 L211.35,247.69 L213.90,247.83 L216.46,247.97 L219.01,248.13 L221.56,248.29 L224.11,248.47 L226.66,248.65 L229.22,248.84 L231.77,249.04 L234.32,249.24 L236.87,249.46 L239.43,249.68 L241.98,249.92 L244.53,250.16 L247.08,250.41 L249.63,250.67 L252.19,250.94 L254.74,251.21 L257.29,251.49 L259.84,251.79 L262.40,252.09 L264.95,252.39 L267.50,252.71 L270.05,253.03 L272.60,253.36 L275.16,253.70 L277.71,254.05 L280.26,254.40 L282.81,254.76 L285.37,255.13 L287.92,255.51 L290.47,255.89 L293.02,256.28 L295.57,256.68 L298.13,257.09 L300.68,257.50 L303.23,257.92 L305.78,258.34 L308.34,258.78 L310.89,259.22 L313.44,259.66 L315.99,260.12 L318.54,260.57 L321.10,261.04 L323.65,261.51 L326.20,261.99 L328.75,262.47 L331.31,262.96 L333.86,263.46 L336.41,263.96 L338.96,264.47"/>
</g></g>
<g font-family="Liberation Serif, serif" fill="#000" opacity="0.999">
<text transform="translate(50.69,280.00) scale(1.0,1.07)" font-size="15.0px" text-anchor="start">3</text>
<line x1="40.09" y1="275.60" x2="48.39" y2="275.60" stroke="#000" stroke-width="1.1"/>
<text transform="translate(113.86,280.00) scale(1.0,1.07)" font-size="15.0px" text-anchor="start">2</text>
<line x1="103.26" y1="275.60" x2="111.56" y2="275.60" stroke="#000" stroke-width="1.1"/>
<text transform="translate(177.03,280.00) scale(1.0,1.07)" font-size="15.0px" text-anchor="start">1</text>
<line x1="166.43" y1="275.60" x2="174.73" y2="275.60" stroke="#000" stroke-width="1.1"/>
<text transform="translate(237.80,280.00) scale(1.03,1.07)" font-size="15.0px" text-anchor="middle">0</text>
<text transform="translate(300.97,280.00) scale(1.03,1.07)" font-size="15.0px" text-anchor="middle">1</text>
<text transform="translate(364.14,280.00) scale(1.03,1.07)" font-size="15.0px" text-anchor="middle">2</text>
<text transform="translate(427.31,280.00) scale(1.03,1.07)" font-size="15.0px" text-anchor="middle">3</text>
<text transform="translate(38.90,245.02) scale(1.0,1.07)" font-size="15.0px" text-anchor="end">4</text>
<line x1="21.40" y1="240.77" x2="29.70" y2="240.77" stroke="#000" stroke-width="1.1"/>
<text transform="translate(38.90,196.26) scale(1.0,1.07)" font-size="15.0px" text-anchor="end">2</text>
<line x1="21.40" y1="192.01" x2="29.70" y2="192.01" stroke="#000" stroke-width="1.1"/>
<text transform="translate(38.90,147.50) scale(1.0,1.07)" font-size="15.0px" text-anchor="end">0</text>
<text transform="translate(38.90,98.74) scale(1.0,1.07)" font-size="15.0px" text-anchor="end">2</text>
<text transform="translate(38.90,49.98) scale(1.0,1.07)" font-size="15.0px" text-anchor="end">4</text>
<text transform="translate(220.70,301.60) scale(0.955,0.94)" font-size="15.0px" text-anchor="start">Δ</text>
<line x1="230.60" y1="304.90" x2="235.70" y2="290.60" stroke="#000" stroke-width="1.0"/>
<text transform="translate(235.40,301.60) scale(0.955,0.94)" font-size="15.0px" text-anchor="start">Δ</text>
<text transform="translate(245.40,304.90) scale(1.0,1.14)" font-size="10.7px" text-anchor="start">so</text>
<text transform="translate(12.30,157.90) rotate(-90) scale(1.0,1.15)" font-size="15.0px" text-anchor="start">ϵ</text>
<line x1="14.70" y1="151.20" x2="2.20" y2="147.00" stroke="#000" stroke-width="1.0"/>
<text transform="translate(12.30,147.10) rotate(-90) scale(0.955,0.94)" font-size="15.0px" text-anchor="start">Δ</text>
<text transform="translate(15.70,138.70) rotate(-90) scale(1.0,1.14)" font-size="10.7px" text-anchor="start">so</text>
<text transform="translate(201.70,14.60) scale(1.0,1.07)" font-size="15.0px" text-anchor="start" font-weight="bold">K</text>
<line x1="213.90" y1="14.85" x2="220.00" y2="14.85" stroke="#000" stroke-width="1.3"/>
<line x1="227.20" y1="11.65" x2="235.00" y2="11.65" stroke="#000" stroke-width="1.1"/>
<text transform="translate(240.20,14.60) scale(1.03,1.07)" font-size="15.3px" text-anchor="start">point</text>
<line x1="178.00" y1="152.50" x2="185.40" y2="152.50" stroke="#000" stroke-width="1.0"/>
<text transform="translate(187.40,156.70) scale(0.955,0.94)" font-size="15.0px" text-anchor="start">Δ</text>
<text transform="translate(197.00,152.00) scale(1.0,1.14)" font-size="10.7px" text-anchor="start">cros</text>
<text transform="translate(271.60,140.10) scale(0.955,0.94)" font-size="15.0px" text-anchor="start">Δ</text>
<text transform="translate(281.00,135.00) scale(1.0,1.14)" font-size="10.7px" text-anchor="start">cros</text>
</g>
</svg>
</body></html>
